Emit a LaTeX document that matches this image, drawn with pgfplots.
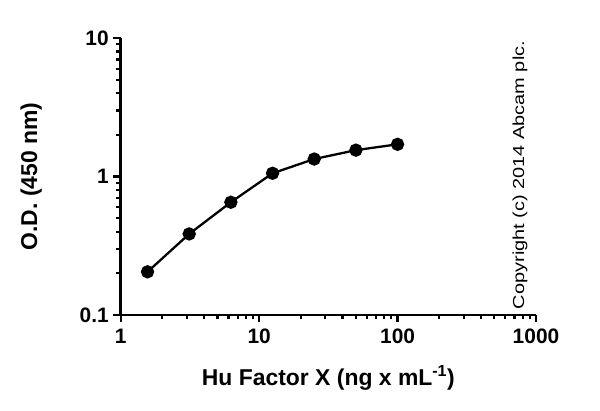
\documentclass[border=0pt]{standalone}
\usepackage{fontspec}
\setmainfont{Liberation Sans}
\usepackage{pgfplots}
\pgfplotsset{compat=1.18}

\begin{document}
\begin{tikzpicture}[x=1bp,y=1bp]
  \useasboundingbox (0,0) rectangle (600,410);
  \begin{axis}[
      at={(120.7bp,95bp)}, anchor=south west,
      scale only axis,
      width=415.3bp, height=277bp,
      xmode=log, ymode=log,
      xmin=1, xmax=1000, ymin=0.1, ymax=10,
      log ticks with fixed point,
      /pgf/number format/assume math mode=true,
      /pgf/number format/1000 sep={},
      axis x line*=bottom, axis y line*=left,
      axis line style={line width=2.9bp},
      tick align=outside,
      major tick length=7.5bp, minor tick length=4.5bp,
      every tick/.style={line width=2.2bp, black},
      tick label style={font=\fontsize{21}{25}\selectfont\bfseries},
      xticklabel style={yshift=-3bp},
      yticklabel style={xshift=-1bp},
      label style={font=\fontsize{23}{27}\selectfont\bfseries},
      xlabel={Hu Factor X (ng x mL\textsuperscript{-1})},
      ylabel={O.D. (450 nm)},
      xlabel style={yshift=-15bp},
      ylabel style={yshift=31bp},
      clip=false,
    ]
    \addplot[black, line width=2.3bp, mark=*, mark size=5.5bp] coordinates {
      (1.5625,0.205) (3.125,0.385) (6.25,0.652) (12.5,1.055)
      (25,1.337) (50,1.55) (100,1.708)
    };
  \end{axis}
  \node[rotate=90, inner sep=0pt] at (520,235)
    {\scalebox{1.25}[1]{\fontsize{16}{19}\selectfont Copyright (c) 2014 Abcam plc.}};
\end{tikzpicture}
\end{document}
